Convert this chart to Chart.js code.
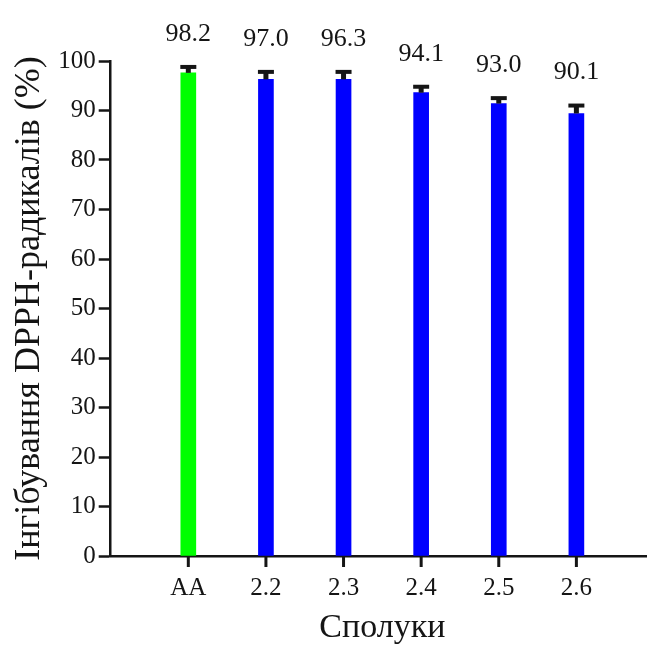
<!DOCTYPE html>
<html>
<head>
<meta charset="utf-8">
<script src="https://cdn.jsdelivr.net/npm/chart.js@4"></script>
<style>
  html, body { margin: 0; padding: 0; background: #fff; overflow: hidden; }
  canvas { display: block; }
</style>
</head>
<body>
<canvas id="chart" width="660" height="645"></canvas>
<script>
"use strict";

// Data
const categories = ['AA', '2.2', '2.3', '2.4', '2.5', '2.6'];
const inhibition = [97.6, 96.3, 96.3, 93.6, 91.4, 89.4];
const errors = [1.2, 1.5, 1.5, 1.2, 1.1, 1.6];
const valueLabels = ['98.2', '97.0', '96.3', '94.1', '93.0', '90.1'];
const barColors = ['#00ff00', '#0000ff', '#0000ff', '#0000ff', '#0000ff', '#0000ff'];
const yTicks = [0, 10, 20, 30, 40, 50, 60, 70, 80, 90, 100];

const AXIS = '#151515';
const SERIF = '"Liberation Serif", "Times New Roman", serif';
const X_TICK_LEN = 11;

// empty slot on each side so the bars sit like in the original
const labels = [''].concat(categories, ['']);
const values = [null].concat(inhibition, [null]);
const colors = ['#fff'].concat(barColors, ['#fff']);

// Error bars, value labels and category tick marks
const extrasPlugin = {
    id: 'extras',
    afterDraw(chart) {
        const ctx = chart.ctx;
        const y = chart.scales.y;
        const meta = chart.getDatasetMeta(0);
        const base = y.getPixelForValue(0);
        ctx.save();
        ctx.strokeStyle = AXIS;
        ctx.fillStyle = AXIS;
        categories.forEach((c, i) => {
            const bar = meta.data[i + 1];
            const capY = y.getPixelForValue(inhibition[i] + errors[i]);

            // tick mark under the category, same x as the bar
            ctx.lineWidth = 3;
            ctx.beginPath();
            ctx.moveTo(bar.x, base);
            ctx.lineTo(bar.x, base + X_TICK_LEN);
            ctx.stroke();

            ctx.lineWidth = 5;
            ctx.beginPath();
            ctx.moveTo(bar.x, bar.y);
            ctx.lineTo(bar.x, capY);
            ctx.stroke();
            ctx.lineWidth = 4;
            ctx.beginPath();
            ctx.moveTo(bar.x - 8, capY);
            ctx.lineTo(bar.x + 8, capY);
            ctx.stroke();

            ctx.font = '26px ' + SERIF;
            ctx.textAlign = 'center';
            ctx.textBaseline = 'middle';
            ctx.fillText(valueLabels[i], bar.x, capY - 33);
        });
        ctx.restore();
    }
};

const config = {
    type: 'bar',
    data: {
        labels: labels,
        datasets: [{
            data: values,
            backgroundColor: colors,
            barThickness: 15
        }]
    },
    options: {
        responsive: false,
        animation: false,
        layout: { padding: { top: 61, right: 0, left: 8, bottom: 0 } },
        plugins: {
            legend: { display: false },
            tooltip: { enabled: false }
        },
        scales: {
            x: {
                offset: false,
                border: { display: true, color: AXIS, width: 2.5 },
                grid: {
                    offset: false,
                    drawOnChartArea: false,
                    drawTicks: true,
                    tickLength: X_TICK_LEN,
                    tickColor: 'rgba(0,0,0,0)'
                },
                ticks: {
                    color: AXIS,
                    font: { family: SERIF, size: 25 },
                    padding: 6,
                    maxRotation: 0,
                    autoSkip: false
                },
                title: {
                    display: true,
                    text: 'Сполуки',
                    color: AXIS,
                    font: { family: SERIF, size: 34, lineHeight: 1.0 },
                    padding: { top: 2, bottom: 0 }
                }
            },
            y: {
                min: 0,
                max: 100,
                afterBuildTicks: (axis) => { axis.ticks = yTicks.map(v => ({ value: v })); },
                border: { display: true, color: AXIS, width: 2.5 },
                grid: {
                    drawOnChartArea: false,
                    drawTicks: true,
                    tickLength: 12,
                    tickWidth: 2.5,
                    tickColor: AXIS
                },
                ticks: {
                    color: AXIS,
                    font: { family: SERIF, size: 25 },
                    padding: 3
                },
                title: {
                    display: true,
                    text: 'Інгібування DPPH-радикалів (%)',
                    color: AXIS,
                    font: { family: SERIF, size: 36 },
                    padding: { top: 0, bottom: 4 }
                }
            }
        }
    },
    plugins: [extrasPlugin]
};

new Chart(document.getElementById('chart').getContext('2d'), config);
</script>
</body>
</html>
